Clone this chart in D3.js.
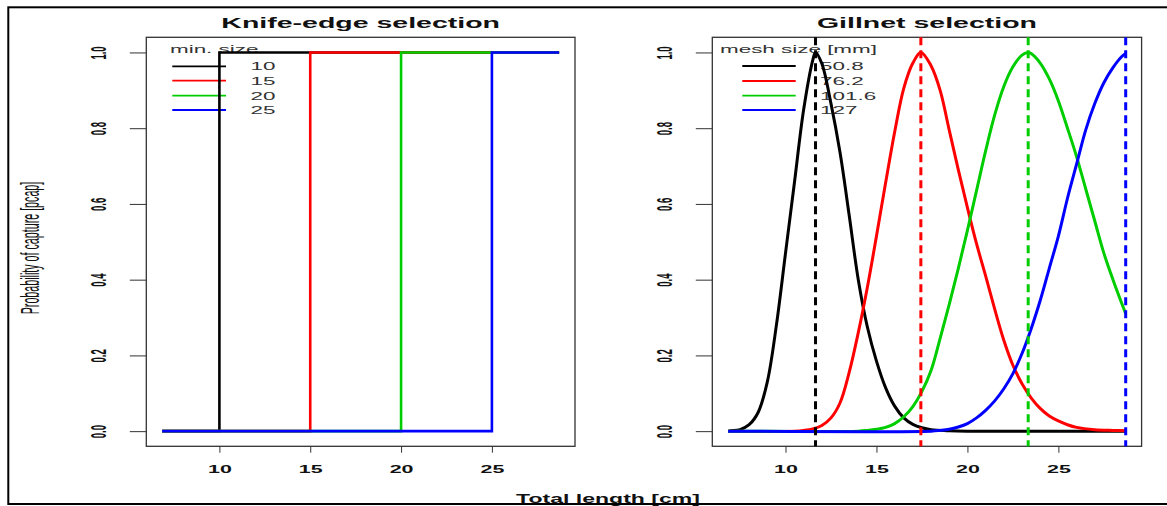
<!DOCTYPE html>
<html>
<head>
<meta charset="utf-8">
<script src="https://cdn.jsdelivr.net/npm/d3@7"></script>
<style>
body { margin: 0; background: #fff; }
svg { display: block; font-family: "Liberation Sans", Arial, sans-serif; }
</style>
</head>
<body>
<div id="figure"></div>
<script>
// axes
var lengthRange = [6.85, 28.7];
var xTicks = [10, 15, 20, 25];
var yTicks = [0, 0.2, 0.4, 0.6, 0.8, 1.0];
var couleurs = ['black', 'red', '#00cd00', 'blue'];

// knife-edge selection (min. size)
var minSizes = ['10', '15', '20', '25'];
var knife10 = [[6.85, 0], [10, 0], [10, 1], [28.7, 1]];
var knife15 = [[6.85, 0], [15, 0], [15, 1], [28.7, 1]];
var knife20 = [[6.85, 0], [20, 0], [20, 1], [28.7, 1]];
var knife25 = [[6.85, 0], [25, 0], [25, 1], [28.7, 1]];

// gillnet selection (mesh size [mm])
var meshSizes = ['50.8', '76.2', '101.6', '127'];
var optLengths = [11.65, 17.44, 23.34, 28.7];

var len508 = [6.85, 7, 7.5, 8, 8.5, 9, 9.5, 10, 10.5, 11, 11.5, 11.65, 12, 12.5, 13, 13.5, 14, 14.5, 15, 15.5, 16, 16.5, 17, 17.5, 18, 19, 20, 22, 25, 28.7];
var p508   = [0, 0.001, 0.004, 0.017, 0.05, 0.13, 0.28, 0.47, 0.66, 0.85, 0.98, 1.0, 0.97, 0.865, 0.735, 0.57, 0.4, 0.275, 0.185, 0.115, 0.066, 0.035, 0.018, 0.009, 0.004, 0.001, 0, 0, 0, 0];

var len762 = [6.85, 10.5, 11, 11.5, 12, 12.5, 13, 13.5, 14, 14.5, 15, 15.5, 16, 16.5, 17, 17.44, 18, 18.5, 19, 19.5, 20, 20.5, 21, 21.5, 22, 22.5, 23, 23.5, 24, 24.5, 25, 25.5, 26, 27, 28, 28.7];
var p762   = [0, 0, 0.002, 0.006, 0.015, 0.035, 0.075, 0.155, 0.26, 0.38, 0.515, 0.655, 0.79, 0.905, 0.972, 1.0, 0.965, 0.9, 0.795, 0.69, 0.59, 0.495, 0.41, 0.322, 0.24, 0.174, 0.125, 0.088, 0.06, 0.04, 0.027, 0.017, 0.01, 0.004, 0.002, 0.001];

var len1016 = [6.85, 14, 14.5, 15, 15.5, 16, 16.5, 17, 17.5, 18, 18.5, 19, 19.5, 20, 20.5, 21, 21.5, 22, 22.5, 23, 23.34, 23.5, 24, 24.5, 25, 25.5, 26, 26.5, 27, 27.5, 28, 28.7];
var p1016   = [0, 0, 0.002, 0.005, 0.01, 0.02, 0.038, 0.065, 0.105, 0.16, 0.245, 0.335, 0.43, 0.53, 0.635, 0.74, 0.835, 0.91, 0.962, 0.993, 1.0, 0.997, 0.972, 0.93, 0.872, 0.8, 0.725, 0.64, 0.555, 0.47, 0.4, 0.31];

var len127 = [6.85, 18, 18.5, 19, 19.5, 20, 20.5, 21, 21.5, 22, 22.5, 23, 23.5, 24, 24.5, 25, 25.5, 26, 26.5, 27, 27.5, 28, 28.5, 28.7];
var p127   = [0, 0, 0.002, 0.005, 0.011, 0.02, 0.035, 0.055, 0.08, 0.112, 0.152, 0.205, 0.27, 0.345, 0.43, 0.515, 0.615, 0.705, 0.795, 0.865, 0.92, 0.96, 0.99, 0.997];

var knifeSeries = [knife10, knife15, knife20, knife25];
var gillSeries = [d3.zip(len508, p508), d3.zip(len762, p762), d3.zip(len1016, p1016), d3.zip(len127, p127)];

var W = 1167, H = 506;
var boxTop = 37.3, boxBottom = 446.3;

var svg = d3.select("#figure").append("svg").attr("width", W).attr("height", H);

// texte etire horizontalement comme dans l'image d'origine
function texte(g, x, y, txt, size, sx, weight, anchor, rot) {
    return g.append("text")
        .attr("transform", "translate(" + x + "," + y + ") scale(" + sx + ",1)" + (rot ? " rotate(-90)" : ""))
        .attr("font-size", size)
        .attr("font-weight", weight)
        .attr("text-anchor", anchor)
        .text(txt);
}

function dessinePanneau(p) {
    var pad = (lengthRange[1] - lengthRange[0]) * 0.04;
    var x = d3.scaleLinear().domain([lengthRange[0] - pad, lengthRange[1] + pad]).range([p.left, p.right]);
    var y = d3.scaleLinear().domain([-0.04, 1.04]).range([boxBottom, boxTop]);
    var g = svg.append("g");

    g.append("rect")
        .attr("x", p.left).attr("y", boxTop)
        .attr("width", p.right - p.left).attr("height", boxBottom - boxTop)
        .attr("fill", "none").attr("stroke", "#333").attr("stroke-width", 1.3);

    var ay = g.append("g").attr("transform", "translate(" + p.left + ",0)")
        .call(d3.axisLeft(y).tickValues(yTicks).tickSize(16.5).tickSizeOuter(0).tickFormat(d3.format(".1f")));
    ay.attr("font-size", null).attr("font-family", null).attr("color", "#333");
    ay.select(".domain").remove();
    ay.selectAll("text")
        .attr("x", null).attr("dy", null)
        .attr("fill", "#111")
        .attr("font-size", 9.5).attr("font-weight", "bold")
        .attr("text-anchor", "middle")
        .attr("transform", "translate(-40,0) scale(2.4,1) rotate(-90)");

    var ax = g.append("g").attr("transform", "translate(0," + boxBottom + ")")
        .call(d3.axisBottom(x).tickValues(xTicks).tickSize(6.4).tickSizeOuter(0).tickFormat(d3.format("d")));
    ax.attr("font-size", null).attr("font-family", null).attr("color", "#333");
    ax.select(".domain").remove();
    ax.selectAll("text")
        .attr("y", null).attr("dy", null)
        .attr("fill", "#111")
        .attr("font-size", 11).attr("font-weight", "bold")
        .attr("transform", "translate(0,27) scale(1.95,1)");

    texte(g, (p.left + p.right) / 2, 28, p.title, 15, 1.9, "bold", "middle", false).attr("fill", "#111");

    // legende
    var leg = g.append("g").attr("fill", "#333");
    texte(leg, p.legTitleX, 52.7, p.legTitle, 11.5, 1.95, "normal", "start", false);
    p.legLabels.forEach(function(lab, i) {
        var ly = p.legY[i];
        leg.append("line")
            .attr("x1", p.legLine[0]).attr("x2", p.legLine[1])
            .attr("y1", ly).attr("y2", ly)
            .attr("stroke", couleurs[i]).attr("stroke-width", 1.8);
        texte(leg, p.legTextX, ly + 4, lab, 11.5, 1.95, "normal", "start", false);
    });

    var ligne = d3.line().x(function(d) { return x(d[0]); }).y(function(d) { return y(d[1]); })
        .curve(p.smooth ? d3.curveCatmullRom.alpha(0.5) : d3.curveLinear);

    g.selectAll("path.serie").data(p.series).join("path")
        .attr("class", "serie")
        .attr("d", ligne)
        .attr("fill", "none")
        .attr("stroke", function(d, i) { return couleurs[i]; })
        .attr("stroke-width", p.smooth ? 3 : 2.6);

    if (p.optima) {
        g.selectAll("line.opt").data(p.optima).join("line")
            .attr("class", "opt")
            .attr("x1", function(d) { return x(d); }).attr("x2", function(d) { return x(d); })
            .attr("y1", boxTop).attr("y2", boxBottom)
            .attr("stroke", function(d, i) { return couleurs[i]; })
            .attr("stroke-width", 3)
            .attr("stroke-dasharray", "8,5");
    }
}

dessinePanneau({
    left: 146.3, right: 575, title: "Knife-edge selection",
    legTitle: "min. size", legTitleX: 170, legLine: [172.3, 226], legTextX: 250.5,
    legY: [66.3, 80.7, 95.7, 110], legLabels: minSizes,
    series: knifeSeries, smooth: false
});

dessinePanneau({
    left: 712.3, right: 1141.6, title: "Gillnet selection",
    legTitle: "mesh size [mm]", legTitleX: 720, legLine: [742.3, 795.7], legTextX: 820,
    legY: [66, 81, 95.7, 110], legLabels: meshSizes,
    series: gillSeries, smooth: true, optima: optLengths
});

// titres des axes
texte(svg, 38.7, 248, "Probability of capture [pcap]", 10.7, 2.35, "normal", "middle", true).attr("fill", "#111");
texte(svg, 608, 503, "Total length [cm]", 12, 1.92, "bold", "middle", false).attr("fill", "#111");

// cadre exterieur
svg.append("rect")
    .attr("x", 8.3).attr("y", 7.3).attr("width", W).attr("height", 496.7)
    .attr("fill", "none").attr("stroke", "black").attr("stroke-width", 2);
</script>
</body>
</html>
